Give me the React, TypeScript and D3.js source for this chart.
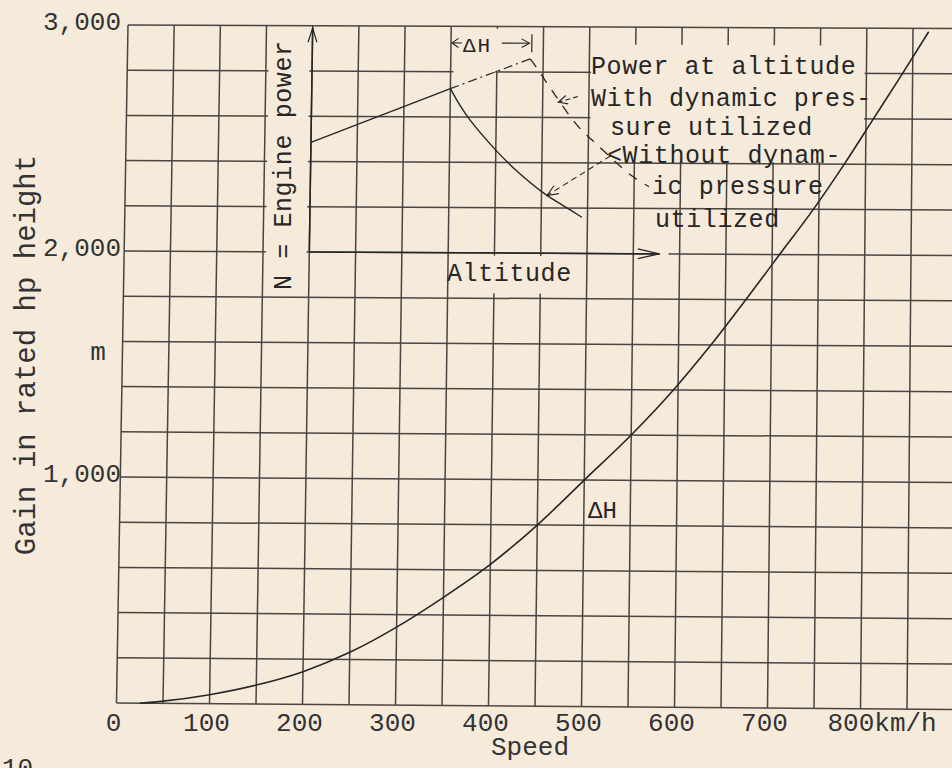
import React from 'react';
import * as d3 from 'd3';

// ---------- data ----------
const SPEED = [25, 50, 100, 150, 200, 250, 300, 350, 400, 450, 500, 550, 595, 635, 672, 708, 744, 777, 808, 839, 867];
const GAIN = [0, 10, 40, 84, 145, 232, 345, 478, 625, 800, 1000, 1200, 1400, 1600, 1800, 2000, 2200, 2400, 2600, 2800, 2985];

const X_TICKS = [0, 100, 200, 300, 400, 500, 600, 700];
const X_LAST_TICK = 800;
const Y_TICKS = [1000, 2000, 3000];
const Y_TICK_LABELS = ['1,000', '2,000', '3,000'];

// schematic inset (engine power vs altitude), in chart units
const POWER_RISE_V = [200, 350];
const POWER_RISE_H = [2485, 2725];
const POWER_FALL_V = [350, 361, 372, 401, 423, 454, 474, 494];
const POWER_FALL_H = [2725, 2649, 2585, 2450, 2363, 2261, 2210, 2160];
const DYN_RISE_V = [350, 436];
const DYN_RISE_H = [2725, 2858];
const DYN_FALL_V = [436, 444, 455, 488, 508, 547, 566];
const DYN_FALL_H = [2858, 2814, 2748, 2564, 2486, 2345, 2296];
const LEADER_WITH_V = [488, 467];
const LEADER_WITH_H = [2693, 2667];
const LEADER_WITHOUT_V = [524, 456];
const LEADER_WITHOUT_H = [2431, 2255];
const ALT_ARROW_V = [200, 578];
const ALT_ARROW_H = [2000, 2000];
const N_ARROW_V = [200, 200];
const N_ARROW_H = [2000, 2990];
const DH_DIM_LEFT_V = [351, 362];
const DH_DIM_RIGHT_V = [405, 435];
const DH_DIM_H = 2927;
const DH_BAR_V = 437.5;
const DH_BAR_H = [2887, 2967];

// ---------- scales (scan is slightly skewed: bilinear blend of edge scales) ----------
const xBottom = d3.scaleLinear().domain([0, 900]).range([116.5, 953.5]);
const xTop = d3.scaleLinear().domain([0, 900]).range([128, 959.2]);
const yLeft = d3.scaleLinear().domain([0, 3000]).range([703, 25]);
const yRight = d3.scaleLinear().domain([0, 3000]).range([709.5, 28.5]);
const tOf = d3.scaleLinear().domain([0, 3000]).range([0, 1]);
const sOf = d3.scaleLinear().domain([0, 900]).range([0, 1]);

function P(v: number, h: number): [number, number] {
  const t = tOf(h);
  const s = sOf(v);
  return [xBottom(v) * (1 - t) + xTop(v) * t, yLeft(h) * (1 - s) + yRight(h) * s];
}

const zip = (vs: number[], hs: number[]) => vs.map((v, i) => P(v, hs[i]));

const BG = '#f6eadb';
const INK = '#262626';
const GRID = '#3b3836';
const FONT = '"Liberation Mono", "DejaVu Sans Mono", monospace';

function chevron(tip: [number, number], from: [number, number], len = 11, spread = 0.45) {
  const a = Math.atan2(tip[1] - from[1], tip[0] - from[0]);
  const p1: [number, number] = [tip[0] - len * Math.cos(a - spread), tip[1] - len * Math.sin(a - spread)];
  const p2: [number, number] = [tip[0] - len * Math.cos(a + spread), tip[1] - len * Math.sin(a + spread)];
  return `M${p1[0]},${p1[1]}L${tip[0]},${tip[1]}L${p2[0]},${p2[1]}`;
}

function blank(v0: number, v1: number, h0: number, h1: number) {
  const pts = [P(v0, h0), P(v1, h0), P(v1, h1), P(v0, h1)];
  return 'M' + pts.map((p) => p.join(',')).join('L') + 'Z';
}

export default function App() {
  const gridV = d3.range(0, 901, 50);
  const gridH = d3.range(0, 3001, 200);
  const straight = d3.line<[number, number]>().x((d) => d[0]).y((d) => d[1]);
  const smooth = d3
    .line<[number, number]>()
    .x((d) => d[0])
    .y((d) => d[1])
    .curve(d3.curveCatmullRom.alpha(0.5));
  const mono = d3
    .line<[number, number]>()
    .x((d) => d[0])
    .y((d) => d[1])
    .curve(d3.curveMonotoneX);

  const mainPts = zip(SPEED, GAIN);
  const riseP = zip(POWER_RISE_V, POWER_RISE_H);
  const fallP = zip(POWER_FALL_V, POWER_FALL_H);
  const dynRise = zip(DYN_RISE_V, DYN_RISE_H);
  const dynFall = zip(DYN_FALL_V, DYN_FALL_H);
  const l1 = zip(LEADER_WITH_V, LEADER_WITH_H);
  const l2 = zip(LEADER_WITHOUT_V, LEADER_WITHOUT_H);
  const alt = zip(ALT_ARROW_V, ALT_ARROW_H);
  const nAx = zip(N_ARROW_V, N_ARROW_H);
  const dimL = DH_DIM_LEFT_V.map((v) => P(v, DH_DIM_H));
  const dimR = DH_DIM_RIGHT_V.map((v) => P(v, DH_DIM_H));
  const bar = DH_BAR_H.map((h) => P(DH_BAR_V, h));

  const textStyle = { fontFamily: FONT, fill: INK } as const;

  return (
    <svg
      width={952}
      height={768}
      viewBox="0 0 952 768"
      style={{ position: 'absolute', left: 0, top: 0, display: 'block' }}
    >
      <rect x={0} y={0} width={952} height={768} fill={BG} />

      {/* grid */}
      <g stroke={GRID} strokeWidth={1.5} fill="none" opacity={0.92}>
        {gridV.map((v) => (
          <path key={'v' + v} d={straight([P(v, 0), P(v, 3000)])!} />
        ))}
        {gridH.map((h) => (
          <path key={'h' + h} d={straight([P(0, h), P(900, h)])!} />
        ))}
      </g>

      {/* areas kept free of grid for the lettering */}
      <g fill={BG} stroke="none">
        <path d={blank(153, 197, 1825, 2965)} />
        <path d={blank(353, 403, 2806, 2990)} />
        <path d={blank(353, 398, 2780, 2806)} />
        <path d={blank(502, 798, 2408, 2922)} />
        <path d={blank(356, 494, 1822, 1988)} />
        <path d={blank(579, 588, 1980, 2020)} />
      </g>

      {/* main ΔH curve */}
      <path d={mono(mainPts)!} fill="none" stroke={INK} strokeWidth={1.6} />

      {/* inset schematic */}
      <g fill="none" stroke={INK} strokeWidth={1.4}>
        <path d={straight(riseP)!} />
        <path d={smooth(fallP)!} />
        <path d={straight(dynRise)!} strokeDasharray="9 4 2 4" strokeWidth={1.2} />
        <path d={smooth(dynFall)!} strokeDasharray="10 9" strokeWidth={1.3} />
        <path d={straight(l1)!} strokeDasharray="5 3" strokeWidth={1.1} />
        <path d={chevron(l1[1], l1[0], 10)} strokeWidth={1.1} />
        <path d={straight(l2)!} strokeDasharray="6 4" strokeWidth={1.1} />
        <path d={chevron(l2[1], l2[0], 12, 0.4)} strokeWidth={1.1} />
        <path d={straight(alt)!} strokeWidth={1.5} />
        <path d={chevron(alt[1], alt[0], 22, 0.22)} strokeWidth={1.3} />
        <path d={straight(nAx)!} strokeWidth={1.5} />
        <path d={chevron(nAx[1], nAx[0], 15, 0.3)} strokeWidth={1.2} />
        <path d={straight(dimL)!} strokeWidth={1.1} />
        <path d={chevron(dimL[0], dimL[1], 8, 0.6)} strokeWidth={1.1} />
        <path d={straight(dimR)!} strokeWidth={1.1} />
        <path d={chevron(dimR[1], dimR[0], 9, 0.5)} strokeWidth={1.1} />
        <path d={straight(bar)!} strokeWidth={1.2} />
      </g>

      {/* inset lettering */}
      <g {...textStyle} fontSize={25} letterSpacing={0.6}>
        <text x={591} y={74}>Power at altitude</text>
        <text x={591} y={106}>With dynamic pres-</text>
        <text x={610} y={135}>sure utilized</text>
        <text x={607} y={163}>{'<Without dynam-'}</text>
        <text x={652} y={194}>ic pressure</text>
        <text x={655} y={227}>utilized</text>
        <text x={447} y={281}>Altitude</text>
        <text x={588} y={518} fontSize={24} letterSpacing={0}>ΔH</text>
        <text x={463} y={52} fontSize={21} letterSpacing={2}>ΔH</text>
        <text transform="translate(291,290) rotate(-90)">N = Engine power</text>
      </g>

      {/* axes labels */}
      <g {...textStyle} fontSize={26} fill="#333">
        {Y_TICKS.map((h, i) => (
          <text key={h} x={121} y={P(0, h)[1] + 5} textAnchor="end">
            {Y_TICK_LABELS[i]}
          </text>
        ))}
        {X_TICKS.map((v) => (
          <text key={v} x={P(v, 0)[0] - 3} y={731} textAnchor="middle">
            {String(v)}
          </text>
        ))}
        <text x={P(X_LAST_TICK, 0)[0] - 33} y={731}>
          {X_LAST_TICK + 'km/h'}
        </text>
        <text x={530} y={755} textAnchor="middle">Speed</text>
        <text x={98} y={360} textAnchor="middle">m</text>
        <text transform="translate(35,355) rotate(-90)" textAnchor="middle" fontSize={29}>
          Gain in rated hp height
        </text>
        <text x={2} y={776}>10</text>
      </g>
    </svg>
  );
}
